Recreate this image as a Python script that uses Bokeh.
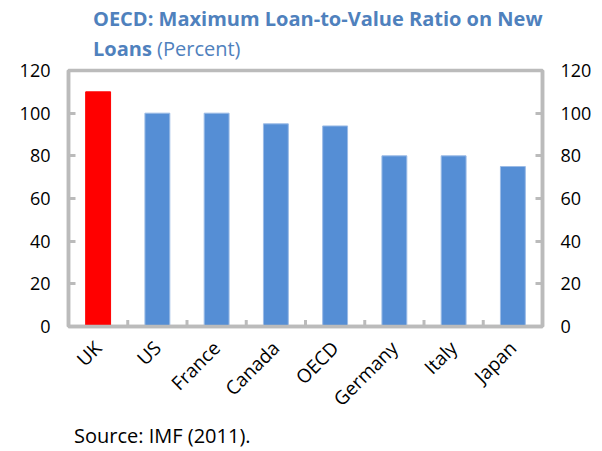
from bokeh.plotting import figure
from bokeh.models import Range1d, LinearAxis, FixedTicker, ColumnDataSource, Div
from bokeh.layouts import column
from bokeh.embed import file_html
from bokeh.resources import INLINE
import math

categories = ["UK", "US", "France", "Canada", "OECD", "Germany", "Italy", "Japan"]
values = [110, 100, 100, 95, 94, 80, 80, 75]
fill_colors = ["#FF0000"] + ["#558ED5"] * 7
edge_colors = ["#FF0000"] + ["#9BBBE6"] * 7
y_ticks = [0, 20, 40, 60, 80, 100, 120]
title_main = "OECD: Maximum Loan-to-Value Ratio on New"
title_bold2 = "Loans"
title_unit = "(Percent)"
source_note = "Source: IMF (2011)."

n = len(categories)
xc = [i + 0.5 for i in range(n)]
src = ColumnDataSource(dict(x=xc, top=values, fc=fill_colors, lc=edge_colors))

GRAY = "#BBBBBB"
FONT = "Open Sans"
TITLE_C = "#4F81BD"
W = 594

title_div = Div(
    text=(f"<div style=\"font-family:'{FONT}';font-size:20px;color:{TITLE_C};"
          f"line-height:30px;padding-left:93px;padding-top:4px;white-space:nowrap;\">"
          f"<b>{title_main}</b><br><b>{title_bold2}</b> {title_unit}</div>"),
    width=W, height=56, margin=(0, 0, 0, 0), styles={"overflow": "visible"})

p = figure(width=W, height=367, x_range=Range1d(0, n), y_range=Range1d(0, 120),
           output_backend="svg", toolbar_location=None, margin=(0, 0, 0, 0),
           min_border_left=68, min_border_right=49, min_border_top=14, min_border_bottom=92)
p.border_fill_color = None
p.vbar(x="x", top="top", width=0.42, fill_color="fc", line_color="lc", line_width=1, source=src)

# boundary ticks on the category axis
bx = list(range(1, n))
p.segment(x0=bx, x1=bx, y0=[0] * len(bx), y1=[3] * len(bx), line_color=GRAY, line_width=3)

p.grid.visible = False
p.outline_line_color = GRAY
p.outline_line_width = 3.5

p.add_layout(LinearAxis(), "right")
for ax in p.yaxis:
    ax.ticker = FixedTicker(ticks=y_ticks)
    ax.axis_line_color = GRAY
    ax.axis_line_width = 3.5
    ax.major_tick_line_color = GRAY
    ax.major_tick_line_width = 3
    ax.major_tick_in = 7
    ax.major_tick_out = 0
    ax.minor_tick_line_color = None
    ax.major_label_text_font = FONT
    ax.major_label_text_font_size = "18px"
    ax.major_label_text_color = "#000000"
    ax.major_label_standoff = 18

xa = p.xaxis[0]
xa.ticker = FixedTicker(ticks=xc)
xa.major_label_overrides = {x: c for x, c in zip(xc, categories)}
xa.major_label_orientation = math.pi / 4
xa.axis_line_color = GRAY
xa.axis_line_width = 3.5
xa.major_tick_in = 0
xa.major_tick_out = 0
xa.minor_tick_line_color = None
xa.major_label_text_font = FONT
xa.major_label_text_font_size = "19px"
xa.major_label_text_color = "#000000"
xa.major_label_standoff = 18

source_div = Div(
    text=(f"<div style=\"font-family:'{FONT}';font-size:20px;color:#000000;"
          f"line-height:22px;padding-left:74px;padding-top:2px;white-space:nowrap;\">"
          f"{source_note}</div>"),
    width=W, height=28, margin=(0, 0, 0, 0))

layout = column(title_div, p, source_div, spacing=0)
open("out.html", "w").write(file_html(layout, INLINE))
